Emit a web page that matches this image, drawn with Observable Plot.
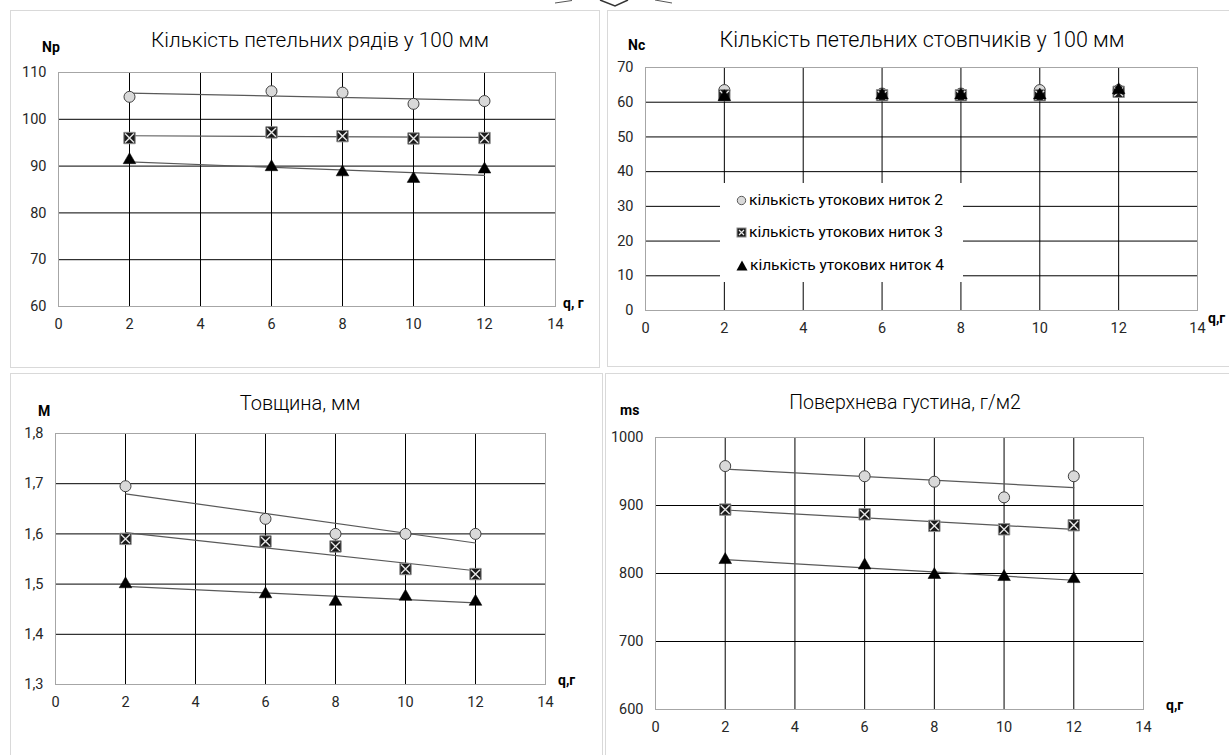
<!DOCTYPE html>
<html><head><meta charset="utf-8">
<script src="https://cdn.jsdelivr.net/npm/d3@7"></script>
<script src="https://cdn.jsdelivr.net/npm/@observablehq/plot@0.6"></script>
<style>
body{margin:0;background:#fff;}
#page{position:relative;width:1229px;height:755px;overflow:hidden;font-family:Roboto, sans-serif;color:#000;}
.panel{position:absolute;border:1px solid #d9d9d9;box-sizing:border-box;}
.abs{position:absolute;white-space:nowrap;line-height:1;}
.title{font-weight:300;transform:translate(-50%,-50%);}
.lab{font-weight:bold;font-size:14px;transform:translateY(-50%);}
.legend{position:absolute;background:#fff;font-size:15.5px;}
.legend .row{position:absolute;left:0;display:flex;align-items:center;transform:translateY(-50%);white-space:nowrap;}
.legend svg{margin-right:2px;}
svg.plot{position:absolute;}
</style></head><body><div id="page"></div>
<script>
// ---- data ----
const qValues = [2, 6, 8, 10, 12];
const seriesNames = ["кількість утокових ниток 2", "кількість утокових ниток 3", "кількість утокових ниток 4"];
const xTicks = [0, 2, 4, 6, 8, 10, 12, 14];
const xTickLabels = ["0", "2", "4", "6", "8", "10", "12", "14"];

const np2 = [104.8, 106.0, 105.7, 103.3, 103.9];
const np3 = [96.0, 97.2, 96.4, 95.9, 96.0];
const np4 = [91.3, 89.8, 88.7, 87.3, 89.3];
const npTicks = [60, 70, 80, 90, 100, 110];
const npTickLabels = ["60", "70", "80", "90", "100", "110"];

const nc2 = [63.5, 62.5, 62.5, 63.5, 63.5];
const nc3 = [62.0, 62.0, 62.0, 62.0, 63.0];
const nc4 = [61.5, 62.0, 62.0, 62.0, 63.5];
const ncTicks = [0, 10, 20, 30, 40, 50, 60, 70];
const ncTickLabels = ["0", "10", "20", "30", "40", "50", "60", "70"];

const m2 = [1.695, 1.630, 1.600, 1.600, 1.600];
const m3 = [1.590, 1.585, 1.575, 1.530, 1.520];
const m4 = [1.500, 1.480, 1.465, 1.475, 1.465];
const mTicks = [1.3, 1.4, 1.5, 1.6, 1.7, 1.8];
const mTickLabels = ["1,3", "1,4", "1,5", "1,6", "1,7", "1,8"];

const ms2 = [958, 943, 935, 912, 943];
const ms3 = [894, 887, 870, 865, 871];
const ms4 = [820, 812, 798, 795, 792];
const msTicks = [600, 700, 800, 900, 1000];
const msTickLabels = ["600", "700", "800", "900", "1000"];

// ---- layout ----
const page = document.getElementById("page");
function addDiv(cls, html, style) {
  const d = document.createElement("div");
  d.className = cls; d.innerHTML = html;
  Object.assign(d.style, style);
  page.appendChild(d);
  return d;
}
function rows(vals) { return qValues.map((q, i) => ({q, v: vals[i]})); }

function makePanel(p) {
  addDiv("panel", "", {left: p.L + "px", top: p.T + "px", width: p.W + "px", height: p.H + "px"});
  const d2 = rows(p.s2), d3 = rows(p.s3), d4 = rows(p.s4);
  const tickMap = new Map(p.yTicks.map((t, i) => [t, p.yLabels[i]]));
  const xMap = new Map(xTicks.map((t, i) => [t, xTickLabels[i]]));
  const marks = [
    Plot.gridY(p.yTicks.slice(1), {stroke: "#000", strokeOpacity: 1, strokeWidth: 1}),
    Plot.gridX([2, 4, 6, 8, 10, 12], {stroke: "#000", strokeOpacity: 1, strokeWidth: 1}),
    Plot.frame({stroke: "#a6a6a6"}),
    Plot.axisX(xTicks, {tickSize: 0, tickPadding: 12, fontSize: 14.5, fill: "#262626", tickFormat: d => xMap.get(d), label: null}),
    Plot.axisY(p.yTicks, {tickSize: 0, tickPadding: 12, fontSize: 14.5, fill: "#262626", tickFormat: d => tickMap.get(d), label: null})
  ];
  if (p.trend) {
    for (const d of [d2, d3, d4]) {
      marks.push(Plot.linearRegressionY(d, {x: "q", y: "v", stroke: "#595959", strokeWidth: 1.2, ci: 0}));
    }
  }
  marks.push(
    Plot.dot(d2, {x: "q", y: "v", r: 5.5, fill: "#d9d9d9", stroke: "#404040", strokeWidth: 1}),
    Plot.dot(d3, {x: "q", y: "v", symbol: "square", r: 6.4, fill: "#1a1a1a", stroke: "#8c8c8c", strokeWidth: 1}),
    Plot.dot(d3, {x: "q", y: "v", symbol: "times", r: 4.1, stroke: "#e8e8e8", strokeWidth: 1.4}),
    Plot.dot(d4, {x: "q", y: "v", symbol: "triangle", r: 4.7, fill: "#000", stroke: "#000", strokeWidth: 0.5})
  );
  const chart = Plot.plot({
    width: p.W, height: p.H,
    marginLeft: p.fx0 - p.L, marginRight: p.L + p.W - p.fx1,
    marginTop: p.fy0 - p.T, marginBottom: p.T + p.H - p.fy1,
    style: {fontFamily: "Roboto, sans-serif", fontSize: "14.5px", color: "#262626", background: "transparent", overflow: "visible"},
    x: {domain: [0, 14]},
    y: {domain: [p.yTicks[0], p.yTicks[p.yTicks.length - 1]]},
    marks
  });
  chart.classList.add("plot");
  chart.style.left = p.L + "px"; chart.style.top = p.T + "px";
  page.appendChild(chart);
  addDiv("abs title", p.title, {left: p.tx + "px", top: p.ty + "px", fontSize: p.tfs + "px"});
  addDiv("abs lab", p.yName, {left: p.yx + "px", top: p.yy + "px"});
  addDiv("abs lab", p.xName, {left: p.xx + "px", top: p.xy + "px"});
}

makePanel({L: 10, T: 10, W: 590, H: 358, fx0: 58, fx1: 555, fy0: 72, fy1: 306,
  s2: np2, s3: np3, s4: np4, yTicks: npTicks, yLabels: npTickLabels, trend: true,
  title: "Кількість петельних рядів у 100 мм", tx: 320, ty: 40, tfs: 20.8,
  yName: "Np", yx: 42, yy: 47, xName: "q, г", xx: 563, xy: 303});

makePanel({L: 607, T: 10, W: 640, H: 357, fx0: 645, fx1: 1197, fy0: 67, fy1: 310,
  s2: nc2, s3: nc3, s4: nc4, yTicks: ncTicks, yLabels: ncTickLabels, trend: false,
  title: "Кількість петельних стовпчиків у 100 мм", tx: 922, ty: 40, tfs: 21.5,
  yName: "Nc", yx: 628, yy: 45, xName: "q,г", xx: 1208, xy: 318});

makePanel({L: 10, T: 373, W: 593, H: 400, fx0: 55, fx1: 545, fy0: 433, fy1: 684,
  s2: m2, s3: m3, s4: m4, yTicks: mTicks, yLabels: mTickLabels, trend: true,
  title: "Товщина, мм", tx: 300, ty: 403, tfs: 20,
  yName: "M", yx: 38, yy: 411, xName: "q,г", xx: 558, xy: 680});

makePanel({L: 605, T: 373, W: 640, H: 400, fx0: 655, fx1: 1143, fy0: 437, fy1: 709,
  s2: ms2, s3: ms3, s4: ms4, yTicks: msTicks, yLabels: msTickLabels, trend: true,
  title: "Поверхнева густина, г/м2", tx: 905, ty: 403, tfs: 19.5,
  yName: "ms", yx: 620, yy: 410, xName: "q,г", xx: 1166, xy: 705});

// legend (panel 2)
const icons = [
  '<svg width="11" height="11"><circle cx="5.5" cy="5.5" r="4.2" fill="#d9d9d9" stroke="#595959"/></svg>',
  '<svg width="11" height="11"><rect x="1" y="1" width="9" height="9" fill="#1a1a1a" stroke="#8c8c8c"/><path d="M3 3L8 8M8 3L3 8" stroke="#e8e8e8" stroke-width="1.2"/></svg>',
  '<svg width="12" height="11"><path d="M6 0.5L11.5 10.5H0.5Z" fill="#000"/></svg>'
];
const leg = addDiv("legend", "", {left: "720px", top: "183px", width: "243px", height: "99px"});
const rowY = [17, 49, 82];
seriesNames.forEach((n, i) => {
  const r = document.createElement("div");
  r.className = "row";
  r.style.top = rowY[i] + "px";
  r.style.left = "16px";
  r.innerHTML = icons[i] + "<span>" + n + "</span>";
  leg.appendChild(r);
});

// decorative fragment at the top edge
const deco = document.createElementNS("http://www.w3.org/2000/svg", "svg");
deco.setAttribute("width", "200"); deco.setAttribute("height", "10");
deco.style.position = "absolute"; deco.style.left = "540px"; deco.style.top = "0px";
deco.innerHTML = '<path d="M15 3L32 0.5" stroke="#555" fill="none"/><path d="M60 0L75 6L88 0" stroke="#333" stroke-width="1.5" fill="none"/><path d="M115 0L132 3" stroke="#555" fill="none"/>';
page.appendChild(deco);
</script></body></html>
